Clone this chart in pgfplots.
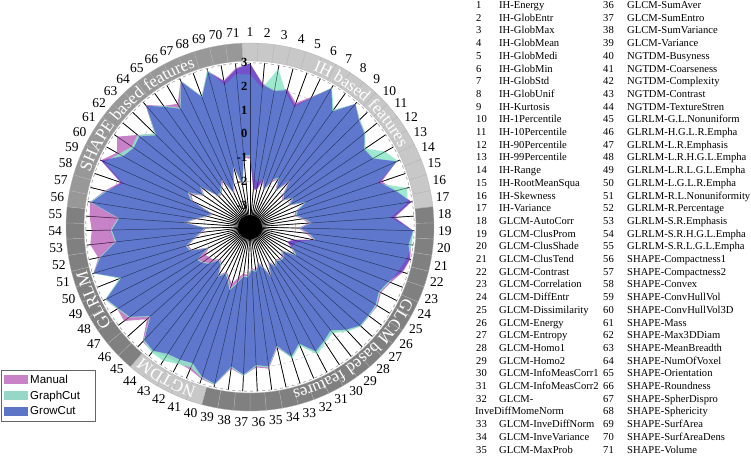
\documentclass[border=0pt]{standalone}
\usepackage{pgfplots}
\pgfplotsset{compat=1.18}
\usepackage{pgfplotstable}
\usetikzlibrary{decorations.text}
\usepackage{fontspec}
\setmainfont{Liberation Serif}
\newfontfamily\arial{Liberation Sans}

\definecolor{manc}{RGB}{186,99,186}
\definecolor{grac}{RGB}{141,230,200}
\definecolor{groc}{RGB}{50,42,209}
\definecolor{manleg}{RGB}{200,130,200}
\definecolor{graleg}{RGB}{150,215,200}
\definecolor{groleg}{RGB}{92,117,198}
\definecolor{bandlight}{RGB}{200,200,200}
\definecolor{banddark}{RGB}{128,128,128}
\definecolor{bandmid}{RGB}{152,152,152}

\newcommand\listsz{\fontsize{10.6}{12.7}\selectfont}
\newcommand\ringsz{\fontsize{13.5}{14}\selectfont}
\newcommand\ticksz{\fontsize{12.5}{13}\selectfont}
\newcommand\bandsz{\fontsize{17}{17}\selectfont}

% k: feature index; m = Manual, g = GraphCut, w = GrowCut
% rows 1-72: outer boundary of each band; rows 73-144: inner boundary
\pgfplotstableread{
k m g w
1 2.97 2.50 2.97
2 2.15 1.95 2.10
3 1.95 2.85 1.90
4 2.10 1.90 2.05
5 1.65 1.45 1.55
6 2.15 2.10 2.10
7 2.85 2.90 2.85
8 2.10 2.15 2.05
9 2.90 2.90 2.90
10 2.55 2.55 2.50
11 2.35 2.35 2.30
12 1.95 1.95 1.90
13 2.05 2.60 2.00
14 2.85 2.90 2.85
15 1.95 1.75 1.85
16 2.45 2.90 2.40
17 2.97 2.80 2.95
18 2.20 2.00 2.15
19 2.95 2.95 2.95
20 2.90 2.95 2.80
21 2.97 2.80 2.95
22 2.80 2.60 2.75
23 2.45 2.40 2.35
24 2.25 2.20 2.15
25 2.40 2.35 2.30
26 2.35 2.35 2.30
27 2.35 2.35 2.30
28 2.05 2.10 2.00
29 1.70 1.75 1.60
30 1.85 1.90 1.80
31 2.05 2.15 2.00
32 1.45 1.50 1.40
33 1.85 1.90 1.80
34 1.30 1.25 1.20
35 2.10 2.05 2.00
36 2.00 1.95 1.90
37 2.35 2.35 2.30
38 2.10 2.05 2.00
39 2.90 2.90 2.85
40 2.80 2.75 2.70
41 2.60 2.50 2.30
42 2.55 2.60 2.40
43 2.60 2.80 2.45
44 2.75 2.80 2.70
45 2.70 2.65 2.60
46 1.90 1.75 1.70
47 2.70 2.45 2.40
48 2.65 2.65 2.60
49 2.90 2.90 2.85
50 1.95 2.00 1.90
51 2.95 2.95 2.95
52 2.60 2.55 2.50
53 2.85 1.80 1.75
54 2.75 1.95 1.90
55 2.85 1.65 1.60
56 2.90 2.90 2.85
57 2.40 2.35 2.30
58 1.85 1.70 1.80
59 2.97 2.80 2.95
60 2.50 2.40 2.20
61 2.85 2.10 2.00
62 2.20 2.20 2.10
63 1.70 1.70 1.60
64 2.85 2.80 2.80
65 2.35 2.35 2.30
66 2.10 1.90 1.85
67 2.90 2.90 2.85
68 1.95 1.95 1.90
69 2.90 2.95 2.85
70 2.35 2.15 2.30
71 2.80 2.55 2.75
72 2.97 2.50 2.97
1 -1.05 -0.95 -0.90
2 -2.35 -1.90 -2.30
3 -2.35 -2.00 -2.30
4 -1.95 -1.85 -1.80
5 -2.30 -2.25 -2.20
6 -1.85 -1.75 -1.70
7 -1.60 -1.55 -1.50
8 -2.10 -2.05 -2.00
9 -1.45 -1.35 -1.30
10 -2.00 -1.95 -1.90
11 -2.20 -2.15 -2.10
12 -1.80 -1.75 -1.70
13 -2.10 -2.05 -2.00
14 -1.40 -1.40 -1.30
15 -1.90 -1.85 -1.80
16 -2.00 -1.95 -1.90
17 -1.70 -1.65 -1.60
18 -1.45 -1.35 -1.30
19 -1.90 -1.85 -1.80
20 -1.55 -1.45 -1.40
21 -1.20 -1.15 -1.10
22 -2.05 -1.75 -2.00
23 -2.25 -1.95 -2.20
24 -2.00 -1.95 -1.90
25 -1.75 -1.70 -1.60
26 -2.30 -2.25 -2.20
27 -2.10 -2.05 -2.00
28 -2.10 -2.05 -2.00
29 -2.20 -2.15 -2.10
30 -2.00 -1.95 -1.90
31 -2.30 -2.25 -2.20
32 -1.75 -1.65 -1.60
33 -2.20 -2.15 -2.10
34 -2.40 -2.35 -2.30
35 -2.10 -2.05 -2.00
36 -2.20 -2.15 -2.10
37 -1.90 -1.85 -1.80
38 -1.95 -1.85 -1.80
39 -1.75 -1.55 -1.50
40 -1.40 -1.20 -1.10
41 -1.65 -1.55 -1.50
42 -1.80 -1.75 -1.70
43 -1.50 -1.45 -1.40
44 -2.00 -1.95 -1.90
45 -2.10 -2.05 -2.00
46 -1.85 -1.65 -1.60
47 -1.80 -1.45 -1.40
48 -1.70 -1.35 -1.30
49 -2.00 -1.95 -1.90
50 -1.30 -1.25 -1.20
51 -1.20 -1.15 -1.10
52 -1.60 -1.55 -1.50
53 -1.90 -1.85 -1.80
54 -2.10 -2.05 -2.00
55 -1.20 -1.15 -1.10
56 -1.70 -1.65 -1.60
57 -2.10 -2.05 -2.00
58 -2.30 -2.25 -2.20
59 -1.30 -1.25 -1.20
60 -1.10 -1.00 -0.90
61 -1.60 -1.55 -1.50
62 -1.30 -1.25 -1.20
63 -2.10 -2.05 -2.00
64 -2.10 -2.05 -2.00
65 -1.90 -1.85 -1.80
66 -1.70 -1.65 -1.60
67 -2.40 -2.35 -2.30
68 -2.00 -1.95 -1.90
69 -1.30 -1.25 -1.20
70 -2.20 -2.15 -2.10
71 -1.00 -0.95 -0.90
72 -1.05 -0.95 -0.90
}\radar

\newcommand{\bandseg}[2]{%
  \pgfmathsetmacro\aA{90-(#1-1.5)*5.070423}%
  \pgfmathsetmacro\aB{90-(#1-0.5)*5.070423}%
  \filldraw[fill=#2, draw=black!30, line width=0.3pt] (\aA:184pt) arc[start angle=\aA, end angle=\aB, radius=184pt] -- (\aB:166pt) arc[start angle=\aB, end angle=\aA, radius=166pt] -- cycle;}

\newcommand{\fA}[3]{%
  \node[anchor=base west, inner sep=0pt, font=\listsz] at (476pt, {448.4pt-(#1-1)*12.7pt}) {#2};%
  \node[anchor=base west, inner sep=0pt, font=\listsz] at (499pt, {448.4pt-(#1-1)*12.7pt}) {#3};}
\newcommand{\fB}[3]{%
  \node[anchor=base west, inner sep=0pt, font=\listsz] at (603pt, {448.4pt-(#1-1)*12.7pt}) {#2};%
  \node[anchor=base west, inner sep=0pt, font=\listsz] at (627pt, {448.4pt-(#1-1)*12.7pt}) {#3};}

\begin{document}
\begin{tikzpicture}
\useasboundingbox (0pt,0pt) rectangle (751pt,457pt);
% grid below the areas
\begin{scope}[shift={(250pt,230pt)}]
  \foreach \j in {0,...,6} \draw[gray!60, dashed, line width=0.4pt] (0,0) circle[radius={22pt+23.7pt*\j}];
  \foreach \k in {1,...,71} \draw[black, line width=0.7pt] (0,0) -- ({90-(\k-1)*5.070423}:164.2pt);
\end{scope}

\begin{axis}[at={(0pt,0pt)}, anchor=south west,
  x=23.7pt, y=23.7pt, xmin=-10.5485, xmax=21.1392, ymin=-9.7046, ymax=9.5781,
  axis lines=none, clip=false,
  legend cell align=left,
  legend image code/.code={\fill[#1] (0pt,-4.8pt) rectangle (24pt,4.8pt);},
  legend style={at={(axis description cs:0.0007,0.0788)}, anchor=south west,
    draw=black!60, fill=white, font=\arial\fontsize{11.5}{13}\selectfont,
    row sep=2.2pt, inner xsep=3.5pt, inner ysep=2.5pt}]
  \addplot[fill=manc, fill opacity=0.8, draw=none, even odd rule, forget plot] table[x expr={(\thisrow{m}+3.93)*sin((\thisrow{k}-1)*5.070423)}, y expr={(\thisrow{m}+3.93)*cos((\thisrow{k}-1)*5.070423)}] {\radar};
  \addplot[fill=grac, fill opacity=0.85, draw=none, even odd rule, forget plot] table[x expr={(\thisrow{g}+3.93)*sin((\thisrow{k}-1)*5.070423)}, y expr={(\thisrow{g}+3.93)*cos((\thisrow{k}-1)*5.070423)}] {\radar};
  \addplot[fill=groc, fill opacity=0.55, draw=none, even odd rule, forget plot] table[x expr={(\thisrow{w}+3.93)*sin((\thisrow{k}-1)*5.070423)}, y expr={(\thisrow{w}+3.93)*cos((\thisrow{k}-1)*5.070423)}] {\radar};
  \addlegendimage{fill=manleg, draw=none}
  \addlegendimage{fill=graleg, draw=none}
  \addlegendimage{fill=groleg, draw=none}
  \legend{Manual, GraphCut\hspace*{10pt}, GrowCut}
\end{axis}

\begin{scope}[shift={(250pt,230pt)}]
  \foreach \k in {1,...,71} \draw[black, opacity=0.5, line width=0.5pt] (0,0) -- ({90-(\k-1)*5.070423}:164.2pt);
  \fill[black] (0,0) circle[radius=12pt];
  \draw[gray!70, dashed, line width=0.5pt] (0,0) circle[radius=164.2pt];
  \foreach \k in {1,...,17} {\bandseg{\k}{bandlight}}
  \foreach \k in {18,...,39} {\bandseg{\k}{banddark}}
  \foreach \k in {40,...,44} {\bandseg{\k}{bandlight}}
  \foreach \k in {45,...,55} {\bandseg{\k}{banddark}}
  \foreach \k in {56,...,71} {\bandseg{\k}{bandmid}}
  % group names along the band
  \path[decorate, decoration={text along path, text align=center, text color=white, text={|\bandsz|IH based features}}]
    (94:169pt) arc[start angle=94, end angle=2, radius=169pt];
  \path[decorate, decoration={text along path, text align=center, text color=white, text={|\bandsz|GLCM based features}}]
    (-3:169pt) arc[start angle=-3, end angle=-97, radius=169pt];
  \path[decorate, decoration={text along path, text align=center, text color=white, text={|\bandsz|NGTDM}}]
    (-89:169pt) arc[start angle=-89, end angle=-149, radius=169pt];
  \path[decorate, decoration={text along path, text align=center, text color=white, text={|\bandsz|GLRLM}}]
    (-125:169pt) arc[start angle=-125, end angle=-185, radius=169pt];
  \path[decorate, decoration={text along path, text align=center, text color=white, text={|\bandsz|SHAPE based features}}]
    (-178:169pt) arc[start angle=-178, end angle=-272, radius=169pt];
  % feature numbers
  \foreach \k in {1,...,71} \node[font=\ringsz, inner sep=0pt] at ({90-(\k-1)*5.070423}:195pt) {\k};
  % radial tick labels
  \foreach \v/\t in {-3/-3,-2/-2,-1/-1,0/0,1/1,2/2,3/3}
    \node[font=\ticksz\bfseries, anchor=east, inner sep=0pt] at (-2.5pt, {22pt+23.7pt*(\v+3)}) {\t};
\end{scope}

% feature list
\fA{1}{1}{IH-Energy}
\fA{2}{2}{IH-GlobEntr}
\fA{3}{3}{IH-GlobMax}
\fA{4}{4}{IH-GlobMean}
\fA{5}{5}{IH-GlobMedi}
\fA{6}{6}{IH-GlobMin}
\fA{7}{7}{IH-GlobStd}
\fA{8}{8}{IH-GlobUnif}
\fA{9}{9}{IH-Kurtosis}
\fA{10}{10}{IH-1Percentile}
\fA{11}{11}{IH-10Percentile}
\fA{12}{12}{IH-90Percentile}
\fA{13}{13}{IH-99Percentile}
\fA{14}{14}{IH-Range}
\fA{15}{15}{IH-RootMeanSqua}
\fA{16}{16}{IH-Skewness}
\fA{17}{17}{IH-Variance}
\fA{18}{18}{GLCM-AutoCorr}
\fA{19}{19}{GLCM-ClusProm}
\fA{20}{20}{GLCM-ClusShade}
\fA{21}{21}{GLCM-ClusTend}
\fA{22}{22}{GLCM-Contrast}
\fA{23}{23}{GLCM-Correlation}
\fA{24}{24}{GLCM-DiffEntr}
\fA{25}{25}{GLCM-Dissimilarity}
\fA{26}{26}{GLCM-Energy}
\fA{27}{27}{GLCM-Entropy}
\fA{28}{28}{GLCM-Homo1}
\fA{29}{29}{GLCM-Homo2}
\fA{30}{30}{GLCM-InfoMeasCorr1}
\fA{31}{31}{GLCM-InfoMeasCorr2}
\fA{32}{32}{GLCM-}
\node[anchor=base west, inner sep=0pt, font=\listsz] at (475pt, {448.4pt-32*12.7pt}) {InveDiffMomeNorm};
\fA{34}{33}{GLCM-InveDiffNorm}
\fA{35}{34}{GLCM-InveVariance}
\fA{36}{35}{GLCM-MaxProb}
\fB{1}{36}{GLCM-SumAver}
\fB{2}{37}{GLCM-SumEntro}
\fB{3}{38}{GLCM-SumVariance}
\fB{4}{39}{GLCM-Variance}
\fB{5}{40}{NGTDM-Busyness}
\fB{6}{41}{NGTDM-Coarseness}
\fB{7}{42}{NGTDM-Complexity}
\fB{8}{43}{NGTDM-Contrast}
\fB{9}{44}{NGTDM-TextureStren}
\fB{10}{45}{GLRLM-G.L.Nonuniform}
\fB{11}{46}{GLRLM-H.G.L.R.Empha}
\fB{12}{47}{GLRLM-L.R.Emphasis}
\fB{13}{48}{GLRLM-L.R.H.G.L.Empha}
\fB{14}{49}{GLRLM-L.R.L.G.L.Empha}
\fB{15}{50}{GLRLM-L.G.L.R.Empha}
\fB{16}{51}{GLRLM-R.L.Nonuniformity}
\fB{17}{52}{GLRLM-R.Percentage}
\fB{18}{53}{GLRLM-S.R.Emphasis}
\fB{19}{54}{GLRLM-S.R.H.G.L.Empha}
\fB{20}{55}{GLRLM-S.R.L.G.L.Empha}
\fB{21}{56}{SHAPE-Compactness1}
\fB{22}{57}{SHAPE-Compactness2}
\fB{23}{58}{SHAPE-Convex}
\fB{24}{59}{SHAPE-ConvHullVol}
\fB{25}{60}{SHAPE-ConvHullVol3D}
\fB{26}{61}{SHAPE-Mass}
\fB{27}{62}{SHAPE-Max3DDiam}
\fB{28}{63}{SHAPE-MeanBreadth}
\fB{29}{64}{SHAPE-NumOfVoxel}
\fB{30}{65}{SHAPE-Orientation}
\fB{31}{66}{SHAPE-Roundness}
\fB{32}{67}{SHAPE-SpherDispro}
\fB{33}{68}{SHAPE-Sphericity}
\fB{34}{69}{SHAPE-SurfArea}
\fB{35}{70}{SHAPE-SurfAreaDens}
\fB{36}{71}{SHAPE-Volume}
\end{tikzpicture}
\end{document}
